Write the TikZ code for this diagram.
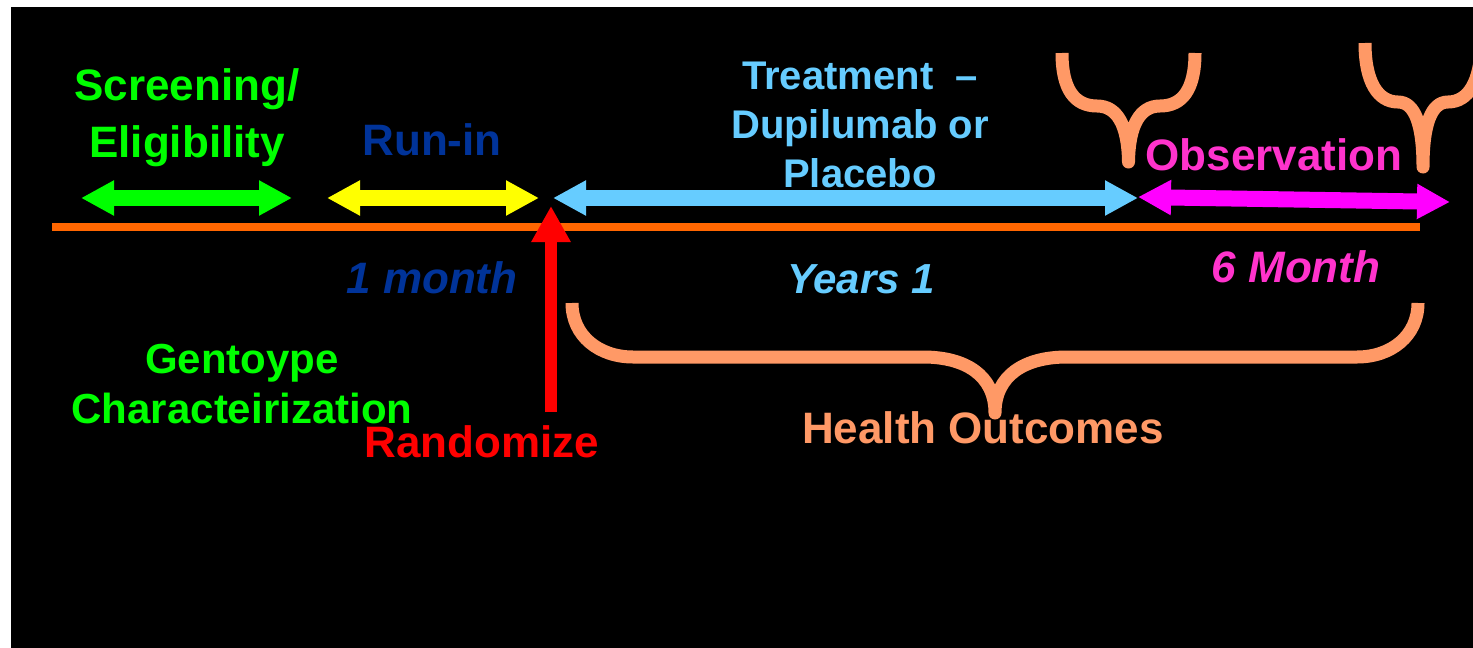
\documentclass[tikz,border=0pt]{standalone}
\usepackage{fontspec}
\setmainfont{Liberation Sans}
\usetikzlibrary{arrows.meta}

\definecolor{tline}{HTML}{FF6600}
\definecolor{scrgreen}{HTML}{00FF00}
\definecolor{runyellow}{HTML}{FFFF00}
\definecolor{runblue}{HTML}{003399}
\definecolor{trtblue}{HTML}{66CCFF}
\definecolor{obsmag}{HTML}{FF00FF}
\definecolor{obstext}{HTML}{FF33CC}
\definecolor{rndred}{HTML}{FF0000}
\definecolor{outsalmon}{HTML}{FF9966}

\tikzset{
  span/.style={line width=8pt, {Triangle[length=16.5pt,width=16.5pt]}-{Triangle[length=16.5pt,width=16.5pt]}},
  brace/.style={outsalmon, line width=6.5pt, line join=round},
  lbl/.style={anchor=base, align=center, inner sep=0pt, font=\bfseries\fontsize{22pt}{28.5pt}\selectfont},
}

\begin{document}
\begin{tikzpicture}[x=0.5pt, y=-0.5pt]
	\useasboundingbox (0,0) rectangle (1473,648);
	\fill[white] (0,0) rectangle (1473,648);
	\fill[black] (11,7) rectangle (1473,648);
	% time line
	\draw[tline, line width=4pt] (52,226.5) -- (1420,226.5);
	% phase arrows
	\coordinate (scrL) at (81,198);   \coordinate (scrR) at (292,198);
	\coordinate (runL) at (327,198);  \coordinate (runR) at (539,198);
	\coordinate (trtL) at (553,198);  \coordinate (trtR) at (1138,198);
	\coordinate (obsL) at (1138,197); \coordinate (obsR) at (1450,202);
	\draw[span, scrgreen] (scrL) -- (scrR);
	\draw[span, runyellow] (runL) -- (runR);
	\draw[span, trtblue] (trtL) -- (trtR);
	\draw[span, obsmag] (obsL) -- (obsR);
	% randomize
	\coordinate (rndB) at (551,412);
	\coordinate (rndT) at (551,206);
	\draw[rndred, line width=6pt, -{Triangle[length=18pt,width=18.5pt]}] (rndB) -- (rndT);
	% braces
	\draw[brace] (572,303) .. controls (572,336) and (599,357) .. (633,357) -- (923,357)
		.. controls (965,357) and (995,375) .. (995,413)
		.. controls (995,375) and (1025,357) .. (1067,357) -- (1357,357)
		.. controls (1391,357) and (1418,336) .. (1418,303);
	\draw[brace] (1062,53) .. controls (1062,90) and (1075,106) .. (1097,106)
		.. controls (1117,106) and (1128,125) .. (1128.5,162)
		.. controls (1129,125) and (1140,106) .. (1160,106)
		.. controls (1182,106) and (1195,90) .. (1195,53);
	\draw[brace] (1365,43) .. controls (1365,82) and (1378,102) .. (1398,102)
		.. controls (1415,102) and (1423,125) .. (1423,167)
		.. controls (1423,125) and (1431,102) .. (1448,102)
		.. controls (1468,102) and (1481,82) .. (1481,43);
	% labels (base = last line)
	\node[lbl, scrgreen] (screen) at (187,157) {Screening/\\Eligibility};
	\node[lbl, runblue] (runin) at (432,155) {Run-in};
	\node[lbl, trtblue, font=\bfseries\fontsize{20pt}{24.5pt}\selectfont] (treat) at (860,187) {Treatment~ –\\Dupilumab or\\Placebo};
	\node[lbl, obstext] (obs) at (1274,170) {Observation};
	\node[lbl, runblue, font=\bfseries\itshape\fontsize{22pt}{26pt}\selectfont] (month1) at (432,293) {1 month};
	\node[lbl, trtblue, font=\bfseries\itshape\fontsize{21pt}{26pt}\selectfont] (years1) at (861,293) {Years 1};
	\node[lbl, obstext, font=\bfseries\itshape\fontsize{22pt}{26pt}\selectfont] (month6) at (1296,282) {6 Month};
	\node[lbl, scrgreen, font=\bfseries\fontsize{21pt}{25pt}\selectfont] (geno) at (242,423) {Gentoype\\Characteirization};
	\node[lbl, rndred] (rand) at (482,457) {Randomize};
	\node[lbl, outsalmon] (health) at (983,443) {Health Outcomes};
\end{tikzpicture}
\end{document}
